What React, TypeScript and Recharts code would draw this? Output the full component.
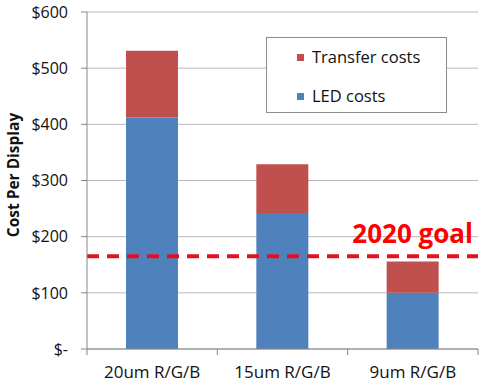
import React from "react";
import { BarChart, Bar, XAxis, YAxis, CartesianGrid, ReferenceLine, Legend, Label } from "recharts";

const categories = ["20um R/G/B", "15um R/G/B", "9um R/G/B"];
const ledCosts = [412, 242, 100];
const transferCosts = [119, 87, 56];
const yTicks = [0, 100, 200, 300, 400, 500, 600];
const goalValue = 165;
const goalLabel = "2020 goal";
const seriesNames = { transfer: "Transfer costs", led: "LED costs" };

const data = categories.map((c, i) => ({ name: c, led: ledCosts[i], transfer: transferCosts[i] }));

const BLUE = "#4F81BD";
const RED = "#C0504D";
const FONT = "'Open Sans', sans-serif";

const XTick = (props: any) => {
  const { x, y, payload, index, visibleTicksCount, width } = props;
  const count = visibleTicksCount || categories.length;
  const half = payload && payload.offset ? payload.offset : (width || 391) / count / 2;
  const axisY = y;
  return (
    <g>
      <line x1={x - half} y1={axisY} x2={x - half} y2={axisY + 6} stroke="#868686" strokeWidth={1} />
      {index === count - 1 && (
        <line x1={x + half} y1={axisY} x2={x + half} y2={axisY + 6} stroke="#868686" strokeWidth={1} />
      )}
      <text x={x} y={axisY + 29} textAnchor="middle" fontSize={17} fontFamily={FONT} fill="#111">
        {payload.value}
      </text>
    </g>
  );
};

const LegendBox = () => (
  <div
    style={{
      width: 179,
      height: 74,
      border: "1px solid #8c8c8c",
      background: "#fff",
      fontFamily: FONT,
      fontSize: 16.5,
      color: "#111",
      position: "relative",
    }}
  >
    {[
      { name: seriesNames.transfer, color: RED, top: 8 },
      { name: seriesNames.led, color: BLUE, top: 47 },
    ].map((it) => (
      <div key={it.name} style={{ position: "absolute", left: 30, top: it.top, display: "flex", alignItems: "center", height: 22 }}>
        <span style={{ display: "inline-block", width: 7, height: 7, background: it.color, marginRight: 8 }} />
        <span style={{ lineHeight: "22px", whiteSpace: "nowrap" }}>{it.name}</span>
      </div>
    ))}
  </div>
);

const GoalLabel = (props: any) => {
  const vb = props.viewBox || {};
  return (
    <text
      x={vb.x + vb.width - 5}
      y={vb.y - 13}
      textAnchor="end"
      fontSize={26}
      fontWeight="bold"
      fontFamily={FONT}
      fill="#FF0000"
    >
      {goalLabel}
    </text>
  );
};

export default function App() {
  return (
    <div style={{ position: "absolute", left: 0, top: 0, width: 491, height: 391, background: "#fff" }}>
      <BarChart width={491} height={391} data={data} margin={{ top: 12, right: 13, bottom: 12, left: 0 }} barSize={52}>
        <CartesianGrid vertical={false} stroke="#B8B8B8" />
        <XAxis
          dataKey="name"
          height={30}
          axisLine={{ stroke: "#868686" }}
          tickLine={false}
          tickSize={0}
          tickMargin={0}
          tick={<XTick />}
          interval={0}
        />
        <YAxis
          width={87}
          domain={[0, 600]}
          ticks={yTicks}
          interval={0}
          axisLine={{ stroke: "#868686" }}
          tickLine={{ stroke: "#868686" }}
          tickSize={6}
          tickMargin={13}
          tick={{ fontSize: 16, fontFamily: FONT, fill: "#111" }}
          tickFormatter={(v: number) => (v === 0 ? "$-   " : `$${v}`)}
        >
          <Label
            content={() => (
              <text
                x={0}
                y={0}
                transform="translate(19,175) rotate(-90)"
                textAnchor="middle"
                fontSize={15.5}
                fontWeight="bold"
                fontFamily={FONT}
                fill="#111"
              >
                Cost Per Display
              </text>
            )}
          />
        </YAxis>
        <Legend
          layout="vertical"
          align="center"
          verticalAlign="middle"
          content={() => <LegendBox />}
          wrapperStyle={{ left: 266, top: 37, width: 181, height: 76 }}
        />
        <Bar dataKey="led" stackId="a" fill={BLUE} isAnimationActive={false} name={seriesNames.led} />
        <Bar dataKey="transfer" stackId="a" fill={RED} isAnimationActive={false} name={seriesNames.transfer} />
        <ReferenceLine y={goalValue} stroke="#E3101E" strokeWidth={4} strokeDasharray="12 8" label={<GoalLabel />} />
      </BarChart>
    </div>
  );
}
